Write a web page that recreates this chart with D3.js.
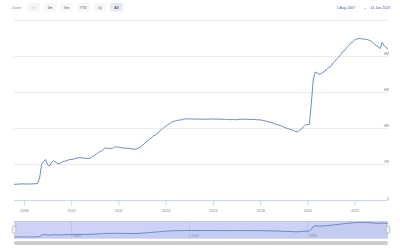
<!DOCTYPE html>
<html>
<head>
<meta charset="utf-8">
<script src="https://cdn.jsdelivr.net/npm/d3@7"></script>
<style>
  html, body { margin: 0; padding: 0; background: #fff; }
  svg { display: block; font-family: "Liberation Sans", Arial, sans-serif; }
</style>
</head>
<body>
<svg id="chart" width="400" height="250"></svg>
<script>
// monthly total assets (millions of dollars), starting Aug 2007
var startMonth = "2007-08-01";
var totals2007 = [870000, 872000, 880000, 888000, 891000];
var totals2008 = [890000, 882000, 890000, 891000, 889000, 897000, 905000, 906000, 1250000, 1970000, 2140000, 2240000];
var totals2009 = [1950000, 1880000, 2070000, 2170000, 2110000, 2030000, 2000000, 2080000, 2140000, 2150000, 2180000, 2240000];
var totals2010 = [2240000, 2260000, 2300000, 2330000, 2340000, 2340000, 2320000, 2330000, 2300000, 2300000, 2340000, 2420000];
var totals2011 = [2480000, 2560000, 2640000, 2690000, 2750000, 2870000, 2870000, 2860000, 2860000, 2850000, 2950000, 2930000];
var totals2012 = [2930000, 2920000, 2880000, 2880000, 2860000, 2880000, 2840000, 2830000, 2810000, 2830000, 2870000, 2920000];
var totals2013 = [3010000, 3100000, 3200000, 3300000, 3380000, 3460000, 3560000, 3620000, 3700000, 3830000, 3900000, 4010000];
var totals2014 = [4080000, 4160000, 4220000, 4300000, 4350000, 4380000, 4410000, 4430000, 4440000, 4480000, 4490000, 4500000];
var totals2015 = [4490000, 4490000, 4480000, 4480000, 4480000, 4490000, 4480000, 4480000, 4470000, 4480000, 4480000, 4490000];
var totals2016 = [4490000, 4480000, 4480000, 4480000, 4480000, 4470000, 4470000, 4470000, 4460000, 4450000, 4460000, 4450000];
var totals2017 = [4450000, 4470000, 4470000, 4480000, 4480000, 4470000, 4470000, 4460000, 4460000, 4460000, 4450000, 4440000];
var totals2018 = [4440000, 4420000, 4400000, 4370000, 4330000, 4310000, 4280000, 4240000, 4200000, 4160000, 4140000, 4080000];
var totals2019 = [4050000, 4000000, 3960000, 3920000, 3900000, 3850000, 3800000, 3780000, 3860000, 3920000, 4060000, 4170000];
var totals2020 = [4170000, 4180000, 5300000, 6650000, 7090000, 7040000, 6960000, 7000000, 7080000, 7150000, 7240000, 7360000];
var totals2021 = [7410000, 7590000, 7690000, 7820000, 7920000, 8060000, 8230000, 8290000, 8450000, 8560000, 8680000, 8760000];
var totals2022 = [8870000, 8910000, 8940000, 8950000, 8910000, 8920000, 8900000, 8870000, 8820000, 8740000, 8640000, 8560000];
var totals2023 = [8480000, 8390000, 8730000, 8560000, 8440000, 8390000];

var yTicks = [0, 2000000, 4000000, 6000000, 8000000, 10000000];
var yTickLabels = ["0", "2M", "4M", "6M", "8M", ""];
var xTickYears = [2008, 2010, 2012, 2014, 2016, 2018, 2020, 2022];
var navTickYears = [2010, 2015, 2020];
var buttons = ["1m", "3m", "6m", "YTD", "1y", "All"];
var dateFrom = "1 Aug 2007", dateTo = "14 Jun 2023";

var totals = [].concat(totals2007, totals2008, totals2009, totals2010, totals2011, totals2012,
  totals2013, totals2014, totals2015, totals2016, totals2017, totals2018, totals2019,
  totals2020, totals2021, totals2022, totals2023);
var parse = d3.timeParse("%Y-%m-%d");
var start = parse(startMonth);
var data = totals.map(function(v, i) {
  return { date: d3.timeMonth.offset(start, i), value: v };
});

var svg = d3.select("#chart");
var plotLeft = 14, plotRight = 388, plotTop = 19.5, plotBottom = 200;

var x = d3.scaleTime()
  .domain([data[0].date, data[data.length - 1].date])
  .range([plotLeft, plotRight]);
var y = d3.scaleLinear().domain([0, 10000000]).range([plotBottom, plotTop]);

// grid lines
svg.append("g").selectAll("line")
  .data(yTicks.slice(1))
  .enter().append("line")
  .attr("x1", plotLeft).attr("x2", plotRight)
  .attr("y1", function(d) { return Math.round(y(d)) + 0.5; })
  .attr("y2", function(d) { return Math.round(y(d)) + 0.5; })
  .attr("stroke", "#ececec").attr("stroke-width", 1);

// y labels on right
svg.append("g").selectAll("text")
  .data(yTicks)
  .enter().append("text")
  .attr("x", plotRight + 1)
  .attr("y", function(d) { return y(d) - 0.5; })
  .attr("text-anchor", "end")
  .attr("font-size", 3.8)
  .attr("fill", "#888")
  .text(function(d, i) { return yTickLabels[i]; });

// x axis
var xAxis = d3.axisBottom(x)
  .tickValues(xTickYears.map(function(yr) { return new Date(yr, 0, 1); }))
  .tickFormat(d3.timeFormat("%Y"))
  .tickSize(5)
  .tickPadding(4);
var gx = svg.append("g").attr("transform", "translate(0," + (plotBottom + 0.5) + ")").call(xAxis);
gx.select(".domain").attr("stroke", "#ccd6eb").attr("d", "M" + plotLeft + ",0H" + plotRight);
gx.selectAll(".tick line").attr("stroke", "#ccd6eb");
gx.selectAll(".tick text").attr("font-size", 3.8).attr("fill", "#888").attr("font-family", null);

// main line
var line = d3.line()
  .x(function(d) { return x(d.date); })
  .y(function(d) { return y(d.value); });
svg.append("path")
  .datum(data)
  .attr("d", line)
  .attr("fill", "none")
  .attr("stroke", "#4a78b8")
  .attr("stroke-width", 0.85)
  .attr("stroke-linejoin", "round");

// navigator
var navTop = 221, navBottom = 238.5;
var yNav = d3.scaleLinear()
  .domain(d3.extent(data, function(d) { return d.value; }))
  .range([navBottom - 1.5, navTop + 1.5]);

svg.append("rect")
  .attr("x", plotLeft).attr("y", navTop)
  .attr("width", plotRight - plotLeft).attr("height", navBottom - navTop)
  .attr("fill", "#cdd2f6");

svg.append("g").selectAll("line")
  .data(navTickYears)
  .enter().append("line")
  .attr("x1", function(d) { return Math.round(x(new Date(d, 0, 1))) + 0.5; })
  .attr("x2", function(d) { return Math.round(x(new Date(d, 0, 1))) + 0.5; })
  .attr("y1", navTop).attr("y2", navBottom)
  .attr("stroke", "#b9bfe6").attr("stroke-width", 0.7);

svg.append("g").selectAll("text")
  .data(navTickYears)
  .enter().append("text")
  .attr("x", function(d) { return x(new Date(d, 0, 1)) + 2; })
  .attr("y", navBottom - 1.5)
  .attr("font-size", 3.3)
  .attr("fill", "#888")
  .text(function(d) { return d; });

var navArea = d3.area()
  .x(function(d) { return x(d.date); })
  .y0(navBottom)
  .y1(function(d) { return yNav(d.value); });
svg.append("path").datum(data).attr("d", navArea).attr("fill", "#3d6fb6").attr("fill-opacity", 0.06);
svg.append("path").datum(data)
  .attr("d", d3.line().x(function(d) { return x(d.date); }).y(function(d) { return yNav(d.value); }))
  .attr("fill", "none").attr("stroke", "#4a78c0").attr("stroke-width", 0.8);

svg.append("rect")
  .attr("x", plotLeft + 0.5).attr("y", navTop + 0.5)
  .attr("width", plotRight - plotLeft - 1).attr("height", navBottom - navTop - 1)
  .attr("fill", "none").attr("stroke", "#c0c6ea").attr("stroke-width", 0.6);

// handles
[plotLeft, plotRight].forEach(function(hx) {
  svg.append("rect")
    .attr("x", hx - 1.8).attr("y", 226).attr("width", 3.6).attr("height", 7).attr("rx", 0.6)
    .attr("fill", "#f2f2f2").attr("stroke", "#999").attr("stroke-width", 0.5);
});

// scrollbar
svg.append("rect")
  .attr("x", plotLeft).attr("y", 241).attr("width", plotRight - plotLeft).attr("height", 4).attr("rx", 2)
  .attr("fill", "#cccccc");

// range selector
svg.append("text").attr("x", 12).attr("y", 8.6).attr("font-size", 3.6).attr("fill", "#888").text("Zoom");
var bx = d3.scalePoint().domain(buttons).range([27, 110]);
var bg = svg.append("g").selectAll("g").data(buttons).enter().append("g")
  .attr("transform", function(d) { return "translate(" + bx(d) + ",3)"; });
bg.append("rect").attr("width", 13).attr("height", 8.5).attr("rx", 1)
  .attr("fill", function(d) { return d === "All" ? "#e6ebf5" : "#f7f7f7"; });
bg.append("text").attr("x", 6.5).attr("y", 5.5).attr("text-anchor", "middle")
  .attr("font-size", 3.5)
  .attr("font-weight", function(d) { return d === "All" ? "bold" : "normal"; })
  .attr("fill", function(d) { return d === "1m" ? "#ccc" : "#555"; })
  .text(function(d) { return d; });

svg.append("text").attr("x", 355).attr("y", 8.5).attr("text-anchor", "end")
  .attr("font-size", 3.6).attr("fill", "#335cad").text(dateFrom);
svg.append("text").attr("x", 365).attr("y", 8.5).attr("text-anchor", "middle")
  .attr("font-size", 3.6).attr("fill", "#888").text("\u2192");
svg.append("text").attr("x", 390).attr("y", 8.5).attr("text-anchor", "end")
  .attr("font-size", 3.6).attr("fill", "#335cad").text(dateTo);
</script>
</body>
</html>
